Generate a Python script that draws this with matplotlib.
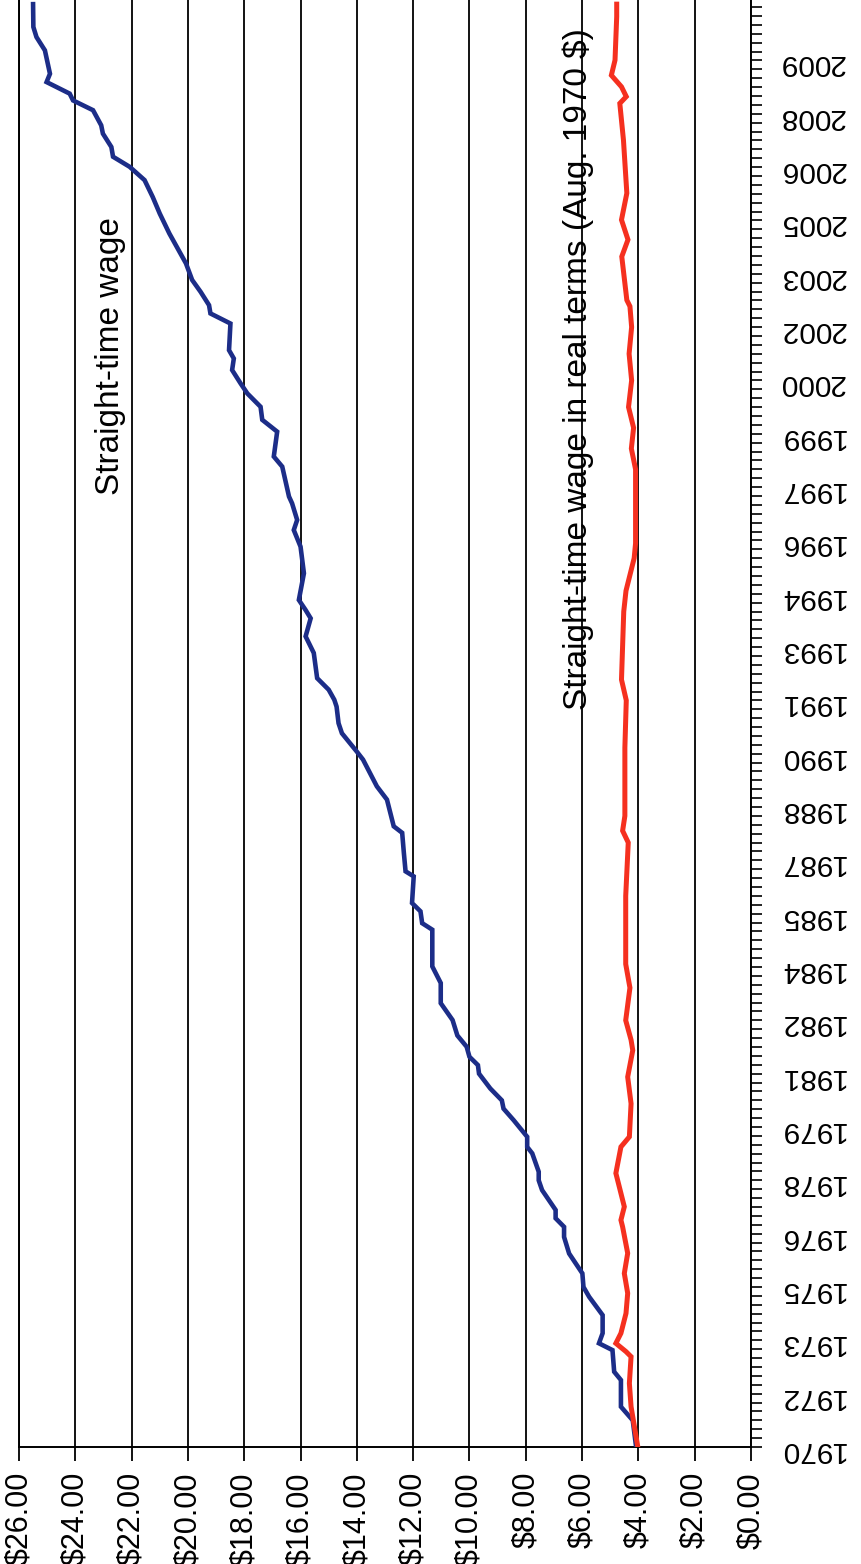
import numpy as np
import matplotlib
matplotlib.use("Agg")
import matplotlib.pyplot as plt
from matplotlib.ticker import FixedLocator, MultipleLocator

plt.rcParams['font.family'] = ['Liberation Sans', 'DejaVu Sans']

# Months counted from August 1970
nominal_months = [0, 9, 13.6, 22.6, 25.4, 32.7, 35, 38.4, 44.5, 50.7, 54, 58.6, 65.3, 70.9,
                  74.3, 77.2, 80, 86.7, 90, 92.9, 99.1, 101.3, 104.7, 110.3, 114.2, 117, 121,
                  126, 128.9, 131.7, 135.1, 138.9, 144.1, 149.8, 156.6, 162.2, 174.6, 176.8,
                  180.8, 183.6, 192.6, 194.3, 200.5, 207.3, 209.5, 218.5, 223, 232, 234.7,
                  240.9, 244.3, 249.9, 252.2, 255.6, 259.5, 268, 273.6, 279.7, 282.5, 285.9,
                  294.9, 303.9, 309.5, 312.9, 318.5, 320.8, 330.9, 334.3, 342.7, 346.7, 351.1,
                  355.6, 359, 363.5, 367.4, 370.2, 379.2, 382.6, 385.4, 389.9, 393.9, 399.5,
                  409.6, 416.3, 421.9, 427.6, 432.1, 435.5, 438.8, 443.3, 446.1, 451.2, 454.5,
                  456.8, 460.7, 463.5, 471.4, 475.9, 479.3, 487]
nominal_wage = [4.08, 4.2, 4.62, 4.62, 4.86, 4.92, 5.4, 5.27, 5.27, 5.75, 5.95, 5.99, 6.46, 6.64,
                6.64, 6.94, 6.94, 7.42, 7.54, 7.54, 7.77, 7.95, 7.95, 8.43, 8.79, 8.85, 9.26,
                9.66, 9.7, 10.0, 10.1, 10.43, 10.6, 11.02, 11.02, 11.32, 11.32, 11.68,
                11.74, 12.04, 11.98, 12.27, 12.33, 12.39, 12.69, 12.93, 13.29, 13.78, 14.0,
                14.53, 14.65, 14.72, 14.8, 15.0, 15.41, 15.53, 15.82, 15.64, 15.82, 16.06,
                15.88, 16.0, 16.24, 16.12, 16.3, 16.41, 16.65, 16.95, 16.83, 17.36, 17.42,
                17.89, 18.13, 18.43, 18.37, 18.54, 18.49, 19.2, 19.25, 19.55, 19.85, 20.07,
                20.66, 21.0, 21.25, 21.54, 22.07, 22.66, 22.72, 23.02, 23.08, 23.37, 24.08,
                24.2, 25.02, 24.9, 25.08, 25.38, 25.49, 25.5]

real_months = [0, 13.6, 21.5, 30.5, 32.2, 35, 38.4, 45.1, 51.9, 58.6, 65.4, 74.3, 76.6, 81.1,
               87.9, 92.4, 101.3, 104.7, 115.9, 124.9, 133.9, 137.4, 144, 155, 163, 186, 204,
               208, 213, 236, 252, 259, 282, 289, 300, 305, 330, 337, 344, 351, 360, 369, 378,
               385, 387.1, 401.8, 407.5, 414.2, 423.2, 441.1, 453.5, 455.8, 459.1, 463, 468.1,
               482.8, 487]
real_wage = [4.02, 4.26, 4.32, 4.26, 4.44, 4.8, 4.62, 4.44, 4.38, 4.5, 4.38, 4.56, 4.62, 4.5,
             4.68, 4.8, 4.62, 4.32, 4.26, 4.38, 4.2, 4.26, 4.45, 4.3, 4.45, 4.45, 4.36,
             4.56, 4.48, 4.48, 4.43, 4.6, 4.52, 4.44, 4.15, 4.1, 4.1, 4.25, 4.17, 4.35, 4.24,
             4.33, 4.24, 4.3, 4.41, 4.59, 4.37, 4.6, 4.41, 4.53, 4.66, 4.43, 4.6, 4.96, 4.83,
             4.77, 4.77]

year_tick_months = list(range(0, 469, 18))
year_labels = ['1970', '1972', '1973', '1975', '1976', '1978', '1979', '1981', '1982',
               '1984', '1985', '1987', '1988', '1990', '1991', '1993', '1994', '1996',
               '1997', '1999', '2000', '2002', '2003', '2005', '2006', '2008', '2009']
dollar_ticks = list(range(0, 27, 2))
dollar_labels = ['${:.2f}'.format(v) for v in dollar_ticks]

W, H = 861, 1564
fig = plt.figure(figsize=(W / 100, H / 100), dpi=100)
ax = fig.add_axes([19 / W, 117 / H, (751 - 19) / W, 1447 / H])

ax.plot(nominal_wage, nominal_months, color='#1c2d88', lw=3.3, solid_joinstyle='miter', zorder=3)
ax.plot(real_wage, real_months, color='#f5301f', lw=3.6, solid_joinstyle='miter', zorder=3)

ax.set_xlim(26, 0)
ax.set_ylim(0, 488.4)

ax.set_xticks(dollar_ticks)
ax.set_xticklabels(dollar_labels)
ax.xaxis.grid(True, color='black', lw=1.3)
ax.yaxis.grid(False)
ax.tick_params(axis='x', direction='out', length=10, width=1.3, pad=8,
               labelsize=22, labelrotation=90, colors='black')

ax.yaxis.set_major_locator(FixedLocator(year_tick_months))
ax.set_yticklabels(year_labels)
ax.yaxis.set_minor_locator(MultipleLocator(3))
ax.yaxis.tick_right()
ax.tick_params(axis='y', which='both', direction='out', length=8, width=1.2,
               right=True, left=False, labelright=True, labelleft=False)
ax.tick_params(axis='y', which='major', labelsize=21.5, labelrotation=180, pad=12)

ax.spines['top'].set_visible(False)
for side in ['left', 'right', 'bottom']:
    ax.spines[side].set_linewidth(1.4)
    ax.spines[side].set_color('black')

ax.text(22.75, 415, 'Straight-time wage', rotation=90, ha='center', va='top',
        fontsize=24, color='black')
ax.text(6.15, 479, 'Straight-time wage in real terms (Aug. 1970 $)', rotation=90,
        ha='center', va='top', fontsize=24, color='black')

fig.savefig('out.png', dpi=100, facecolor='white')
